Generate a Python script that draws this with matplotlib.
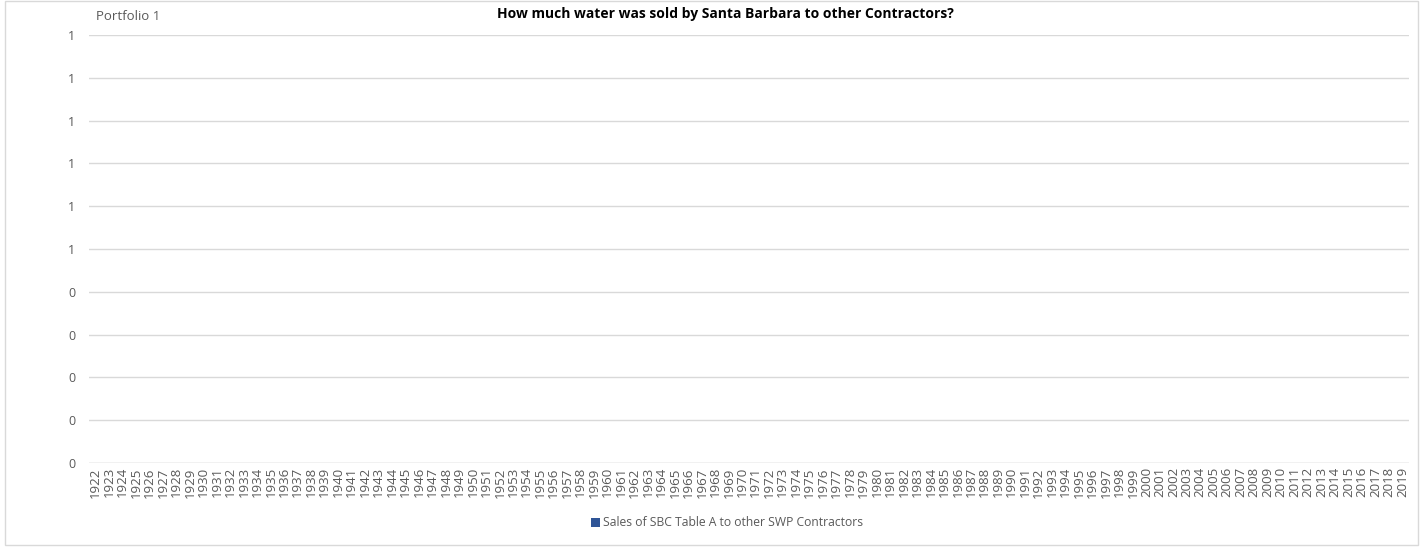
import matplotlib
matplotlib.use('Agg')
import matplotlib.pyplot as plt
from matplotlib.patches import Rectangle
from matplotlib.ticker import FuncFormatter

# ------------------------------------------------------| Data
years = [str(y) for y in range(1922, 2020)]
# every year is zero in the source chart
sales = [0, 0, 0, 0, 0, 0, 0, 0, 0, 0, 0, 0, 0, 0, 0, 0, 0, 0, 0, 0,
         0, 0, 0, 0, 0, 0, 0, 0, 0, 0, 0, 0, 0, 0, 0, 0, 0, 0, 0, 0,
         0, 0, 0, 0, 0, 0, 0, 0, 0, 0, 0, 0, 0, 0, 0, 0, 0, 0, 0, 0,
         0, 0, 0, 0, 0, 0, 0, 0, 0, 0, 0, 0, 0, 0, 0, 0, 0, 0, 0, 0,
         0, 0, 0, 0, 0, 0, 0, 0, 0, 0, 0, 0, 0, 0, 0, 0, 0, 0]
y_ticks = [0.0, 0.1, 0.2, 0.3, 0.4, 0.5, 0.6, 0.7, 0.8, 0.9, 1.0]
series_name = 'Sales of SBC Table A to other SWP Contractors'

# ------------------------------------------------------| Plotting
plt.rcParams['font.family'] = ['Open Sans', 'DejaVu Sans']
grey = '#595959'
grid = '#D9D9D9'

fig = plt.figure(figsize=(14.24, 5.53), dpi=100)
ax = fig.add_axes([0.0625, 0.1627, 0.927, 0.774])

x = list(range(len(years)))
ax.bar(x, sales, width=0.6, color='#2F5597', label=series_name)

ax.set_xlim(-0.5, len(years) - 0.5)
ax.set_ylim(0, 1.0)
ax.set_yticks(y_ticks)
ax.yaxis.set_major_formatter(FuncFormatter(lambda v, p: '%d' % int(v + 0.5 + 1e-9)))
ax.set_xticks(x)
ax.set_xticklabels(years, rotation=90, fontsize=9.5, color=grey)
ax.tick_params(axis='y', labelsize=9, colors=grey, length=0, pad=10)
ax.tick_params(axis='x', length=0, pad=3)
ax.grid(axis='y', color=grid, linewidth=1)
ax.set_axisbelow(True)
for s in ax.spines.values():
    s.set_visible(False)
ax.axhline(0, color=grid, linewidth=1)

fig.text(725 / 1424, 1 - 14 / 553, 'How much water was sold by Santa Barbara to other Contractors?',
         ha='center', va='center', fontsize=10, fontweight='bold', color='black')
fig.text(96 / 1424, 1 - 16 / 553, 'Portfolio 1', ha='left', va='center', fontsize=9.5, color=grey)

fig.legend(loc='center', bbox_to_anchor=(727 / 1424, 1 - 523 / 553), frameon=False,
           fontsize=8.7, labelcolor=grey, handlelength=0.75, handleheight=0.75, handletextpad=0.2)

fig.patches.append(Rectangle((5 / 1424, 1 - 545 / 553), 1413 / 1424, 544 / 553,
                             transform=fig.transFigure, fill=False, edgecolor=grid, linewidth=1))

fig.savefig('out.png', dpi=100)
